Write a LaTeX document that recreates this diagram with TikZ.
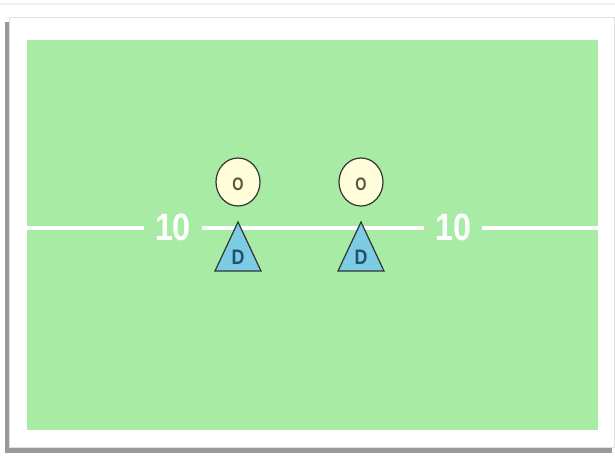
\documentclass[tikz,border=0pt]{standalone}
\usepackage{fontspec}
\setmainfont{Liberation Sans}
\definecolor{turf}{RGB}{168,235,165}
\definecolor{offfill}{RGB}{255,253,218}
\definecolor{deffill}{RGB}{124,204,228}
\definecolor{offtext}{RGB}{95,82,62}
\definecolor{deftext}{RGB}{38,78,112}
\tikzset{
  yardnum/.style={text=white, inner xsep=11pt, inner ysep=0pt, font=\bfseries\fontsize{38}{38}\selectfont},
  yardline/.style={white, line width=3.5pt},
  offense/.style={draw=black!80, line width=1.2pt, fill=offfill},
  defense/.style={draw=black!80, line width=1.2pt, fill=deffill, line join=miter},
  otag/.style={text=offtext, font=\bfseries\fontsize{18}{18}\selectfont, inner sep=0pt},
  dtag/.style={text=deftext, font=\bfseries\fontsize{21}{21}\selectfont, inner sep=0pt}
}

\begin{document}
\begin{tikzpicture}[x=1pt,y=-1pt]
			\useasboundingbox (0,0) rectangle (615,455);
			% frame and its shadow
			\fill[black!6] (0,3) rectangle (615,5);
			\fill[black!40] (5,22) rectangle (612,453);
			\draw[black!12, fill=white] (9,17) rectangle (614.5,447);
			\fill[turf] (27,40) rectangle (598,430);
			% yard line
			\coordinate (fieldL) at (27,228);
			\coordinate (fieldR) at (598,228);
			\node[yardnum] (tenL) at (173,227) {\scalebox{0.85}[1]{10}};
			\node[yardnum] (tenR) at (453,227) {\scalebox{0.85}[1]{10}};
			\draw[yardline] (fieldL) -- (tenL.west |- fieldL);
			\draw[yardline] (tenL.east |- fieldL) -- (tenR.west |- fieldL);
			\draw[yardline] (tenR.east |- fieldR) -- (fieldR);
			% offense
			\draw[offense] (238,182) ellipse (22 and 24);
			\draw[offense] (361,182) ellipse (22 and 24);
			\node[otag] (o1) at (238,184) {\scalebox{0.8}[1]{O}};
			\node[otag] (o2) at (361,184) {\scalebox{0.8}[1]{O}};
			% defense
			\draw[defense] (238,222) -- (261,271) -- (215,271) -- cycle;
			\draw[defense] (361,222) -- (384,271) -- (338,271) -- cycle;
			\node[dtag] (d1) at (238,257) {\scalebox{0.85}[1]{D}};
			\node[dtag] (d2) at (361,257) {\scalebox{0.85}[1]{D}};
		\end{tikzpicture}
\end{document}
